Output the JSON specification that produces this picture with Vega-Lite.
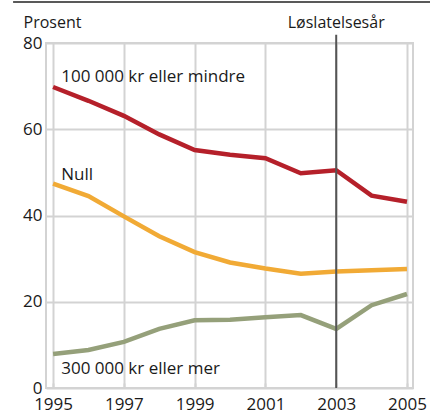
{
  "$schema": "https://vega.github.io/schema/vega-lite/v6.json",
  "autosize": "none",
  "width": 367,
  "height": 345,
  "padding": {"left": 46, "top": 43, "right": 17, "bottom": 26},
  "background": "white",
  "config": {
    "font": "Open Sans",
    "view": {"stroke": "#d3d3d3", "strokeWidth": 2},
    "axis": {"labelFontSize": 17, "labelColor": "#1a1a1a", "gridColor": "#d3d3d3", "gridWidth": 2, "domain": false}
  },
  "datasets": {
    "series": [
      {"year": 1995, "value": 69.8, "series": "100 000 kr eller mindre"},
      {"year": 1996, "value": 66.6, "series": "100 000 kr eller mindre"},
      {"year": 1997, "value": 63.1, "series": "100 000 kr eller mindre"},
      {"year": 1998, "value": 58.8, "series": "100 000 kr eller mindre"},
      {"year": 1999, "value": 55.2, "series": "100 000 kr eller mindre"},
      {"year": 2000, "value": 54.1, "series": "100 000 kr eller mindre"},
      {"year": 2001, "value": 53.3, "series": "100 000 kr eller mindre"},
      {"year": 2002, "value": 49.8, "series": "100 000 kr eller mindre"},
      {"year": 2003, "value": 50.5, "series": "100 000 kr eller mindre"},
      {"year": 2004, "value": 44.6, "series": "100 000 kr eller mindre"},
      {"year": 2005, "value": 43.2, "series": "100 000 kr eller mindre"},
      {"year": 1995, "value": 47.4, "series": "Null"},
      {"year": 1996, "value": 44.5, "series": "Null"},
      {"year": 1997, "value": 39.8, "series": "Null"},
      {"year": 1998, "value": 35.2, "series": "Null"},
      {"year": 1999, "value": 31.5, "series": "Null"},
      {"year": 2000, "value": 29.1, "series": "Null"},
      {"year": 2001, "value": 27.7, "series": "Null"},
      {"year": 2002, "value": 26.5, "series": "Null"},
      {"year": 2003, "value": 27.0, "series": "Null"},
      {"year": 2004, "value": 27.3, "series": "Null"},
      {"year": 2005, "value": 27.6, "series": "Null"},
      {"year": 1995, "value": 7.9, "series": "300 000 kr eller mer"},
      {"year": 1996, "value": 8.8, "series": "300 000 kr eller mer"},
      {"year": 1997, "value": 10.7, "series": "300 000 kr eller mer"},
      {"year": 1998, "value": 13.7, "series": "300 000 kr eller mer"},
      {"year": 1999, "value": 15.7, "series": "300 000 kr eller mer"},
      {"year": 2000, "value": 15.8, "series": "300 000 kr eller mer"},
      {"year": 2001, "value": 16.4, "series": "300 000 kr eller mer"},
      {"year": 2002, "value": 16.9, "series": "300 000 kr eller mer"},
      {"year": 2003, "value": 13.7, "series": "300 000 kr eller mer"},
      {"year": 2004, "value": 19.2, "series": "300 000 kr eller mer"},
      {"year": 2005, "value": 21.8, "series": "300 000 kr eller mer"}
    ],
    "labels": [
      {"year": 1995.23, "value": 71.0, "text": "100 000 kr eller mindre"},
      {"year": 1995.23, "value": 48.2, "text": "Null"},
      {"year": 1995.23, "value": 3.3, "text": "300 000 kr eller mer"}
    ],
    "marker": [
      {"year": 2003, "text": "Løslatelsesår"}
    ]
  },
  "layer": [
    {
      "data": {"name": "series"},
      "mark": {"type": "line", "strokeWidth": 4.5, "clip": false},
      "encoding": {
        "x": {
          "field": "year", "type": "quantitative",
          "scale": {"domain": [1994.8, 2005.17], "nice": false, "zero": false},
          "axis": {
            "title": null,
            "values": [1995, 1996, 1997, 1998, 1999, 2000, 2001, 2002, 2003, 2004, 2005],
            "format": "d",
            "labelExpr": "datum.value % 2 === 1 ? datum.label : ''",
            "gridOpacity": {"condition": {"test": "datum.value % 2 === 0", "value": 0}, "value": 1},
            "ticks": true,
            "tickSize": -5,
            "tickWidth": 2,
            "tickColor": "#d3d3d3",
            "labelPadding": 13,
            "labelFlush": false
          }
        },
        "y": {
          "field": "value", "type": "quantitative",
          "scale": {"domain": [0, 80], "nice": false},
          "axis": {
            "values": [0, 20, 40, 60, 80],
            "ticks": false,
            "labelPadding": 4,
            "title": "Prosent",
            "titleAngle": 0,
            "titleAlign": "left",
            "titleBaseline": "alphabetic",
            "titleX": -23,
            "titleY": -16,
            "titleFontSize": 16,
            "titleFontWeight": "normal",
            "titleColor": "#1a1a1a"
          }
        },
        "color": {
          "field": "series", "type": "nominal",
          "scale": {"domain": ["100 000 kr eller mindre", "Null", "300 000 kr eller mer"], "range": ["#b5202a", "#f1aa35", "#95a07a"]},
          "legend": null
        }
      }
    },
    {
      "data": {"name": "marker"},
      "mark": {"type": "rule", "color": "#555555", "strokeWidth": 2},
      "encoding": {
        "x": {"field": "year", "type": "quantitative"},
        "y": {"datum": 0, "type": "quantitative"},
        "y2": {"datum": 81.9}
      }
    },
    {
      "data": {"name": "marker"},
      "mark": {"type": "rule", "color": "#222222", "strokeWidth": 1.5},
      "encoding": {
        "x": {"datum": 1993.87, "type": "quantitative"},
        "x2": {"datum": 2005.7},
        "y": {"datum": 89.5, "type": "quantitative"}
      }
    },
    {
      "data": {"name": "marker"},
      "mark": {"type": "text", "fontSize": 16, "color": "#1a1a1a", "align": "center", "baseline": "alphabetic"},
      "encoding": {
        "x": {"field": "year", "type": "quantitative"},
        "y": {"datum": 83.5, "type": "quantitative"},
        "text": {"field": "text"}
      }
    },
    {
      "data": {"name": "labels"},
      "mark": {"type": "text", "fontSize": 17, "color": "#1a1a1a", "align": "left", "baseline": "alphabetic"},
      "encoding": {
        "x": {"field": "year", "type": "quantitative"},
        "y": {"field": "value", "type": "quantitative"},
        "text": {"field": "text"}
      }
    }
  ]
}
